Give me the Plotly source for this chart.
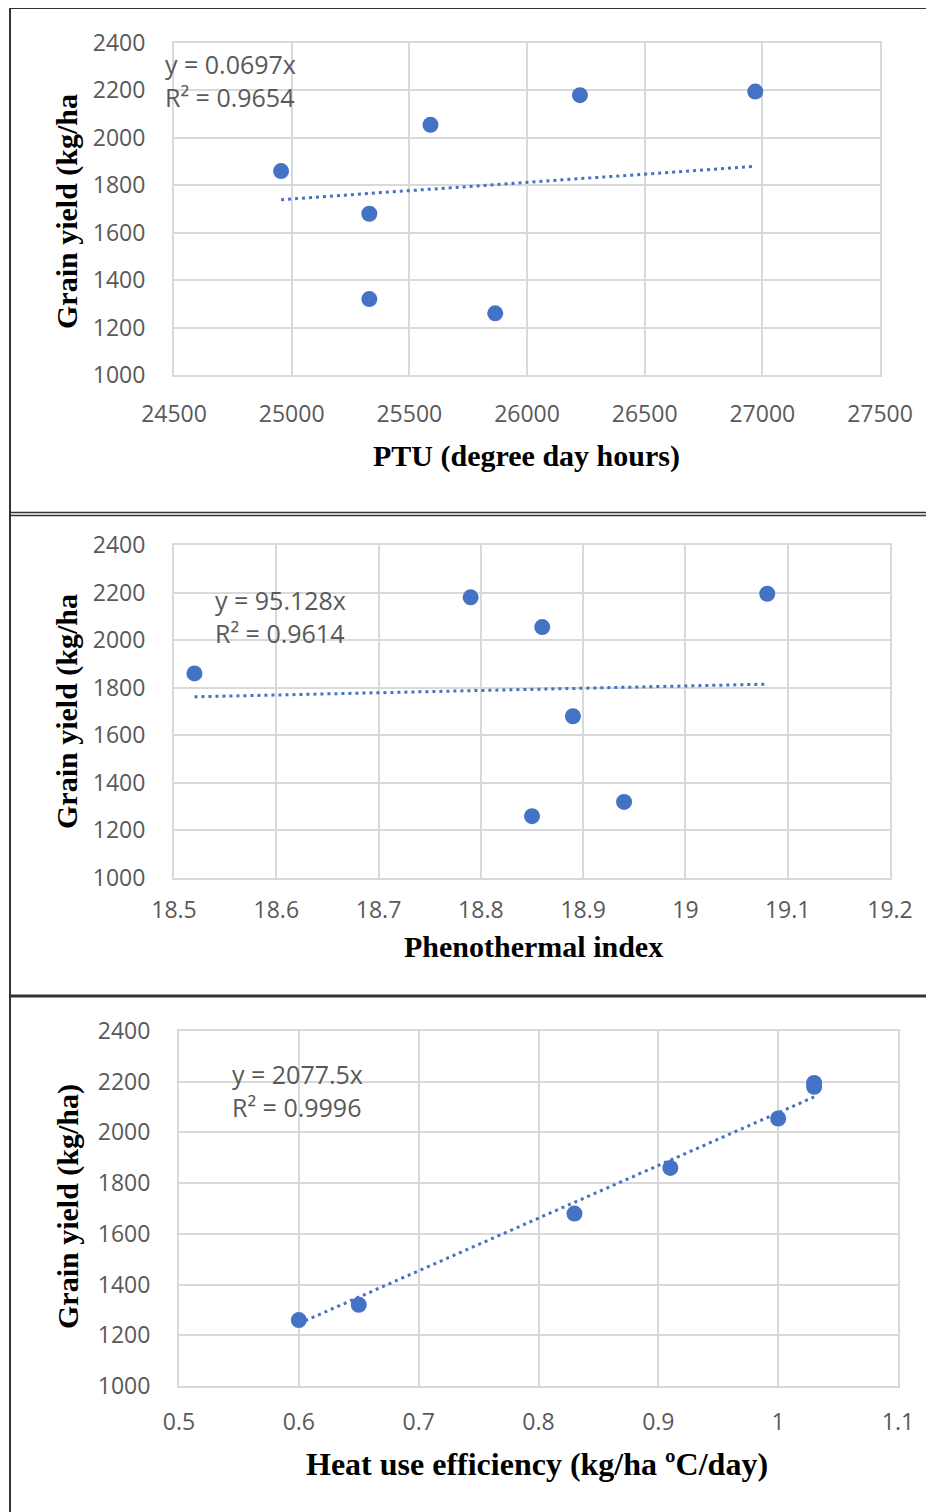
import plotly.graph_objects as go
import numpy as np

W, H = 934, 1512
OFF = 8  # page body margin compensation

# ---- data ----
grain_yield = [1860, 1680, 1320, 2055, 1260, 2180, 2195]
ptu = [24955, 25330, 25330, 25590, 25865, 26225, 26970]
pti = [18.52, 18.89, 18.94, 18.86, 18.85, 18.79, 19.08]
hue = [0.91, 0.83, 0.65, 1.00, 0.60, 1.03, 1.03]

slope_ptu, r2_ptu = 0.0697, 0.9654
slope_pti, r2_pti = 95.128, 0.9614
slope_hue, r2_hue = 2077.5, 0.9996

y_ticks = [1000, 1200, 1400, 1600, 1800, 2000, 2200, 2400]
ptu_ticks = [24500, 25000, 25500, 26000, 26500, 27000, 27500]
pti_ticks = [18.5, 18.6, 18.7, 18.8, 18.9, 19.0, 19.1, 19.2]
hue_ticks = [0.5, 0.6, 0.7, 0.8, 0.9, 1.0, 1.1]

x_titles = ["PTU (degree day hours)", "Phenothermal index", "Heat use efficiency (kg/ha ºC/day)"]
y_titles = ["Grain yield (kg/ha", "Grain yield (kg/ha", "Grain yield (kg/ha)"]

# ---- helpers ----
def px(x):
    return (x - OFF) / W

def py(y):
    return 1 - (y - OFF) / H

BLUE = "#4472C4"
GRID = "#d9d9d9"
TICKC = "#595959"
TICKFONT = dict(family="Open Sans, sans-serif", size=23, color=TICKC)
SERIF = "Liberation Serif, Times New Roman, serif"

panels = [
    dict(x=ptu, slope=slope_ptu, r2=r2_ptu, ticks=ptu_ticks, rng=[24500, 27500], fmt="d",
         dom_x=(174, 880), dom_y=(43, 375), eq=(163, 81), xt=(526, 456), yt=(67, 212),
         xso=17, xts=30),
    dict(x=pti, slope=slope_pti, r2=r2_pti, ticks=pti_ticks, rng=[18.5, 19.2], fmt="",
         dom_x=(174, 890), dom_y=(545, 878), eq=(213, 616), xt=(533, 946), yt=(67, 712),
         xso=10, xts=30),
    dict(x=hue, slope=slope_hue, r2=r2_hue, ticks=hue_ticks, rng=[0.5, 1.1], fmt="",
         dom_x=(179, 898), dom_y=(1031, 1386), eq=(230, 1090), xt=(537, 1464), yt=(68, 1207),
         xso=14, xts=32),
]

fig = go.Figure()
annotations = []
for i, p in enumerate(panels, start=1):
    xa = "x" if i == 1 else f"x{i}"
    ya = "y" if i == 1 else f"y{i}"
    xs = np.array(p["x"], dtype=float)
    tx = np.array([xs.min(), xs.max()])
    fig.add_trace(go.Scatter(x=tx, y=p["slope"] * tx, mode="lines",
                             line=dict(color=BLUE, width=3, dash="3px,4px"),
                             xaxis=xa, yaxis=ya, showlegend=False, hoverinfo="skip"))
    fig.add_trace(go.Scatter(x=p["x"], y=grain_yield, mode="markers",
                             marker=dict(color=BLUE, size=16),
                             xaxis=xa, yaxis=ya, showlegend=False))
    axis_common = dict(showgrid=True, gridcolor=GRID, gridwidth=2, zeroline=False,
                       showline=True, linecolor=GRID, linewidth=2, mirror=True,
                       ticks="", tickfont=TICKFONT, automargin=False)
    fig.layout[("xaxis" if i == 1 else f"xaxis{i}")] = dict(
        domain=[px(p["dom_x"][0]), px(p["dom_x"][1])], range=p["rng"],
        tickvals=p["ticks"], tickformat=p["fmt"], anchor=ya, ticklabelstandoff=p["xso"],
        **axis_common)
    fig.layout[("yaxis" if i == 1 else f"yaxis{i}")] = dict(
        domain=[py(p["dom_y"][1]), py(p["dom_y"][0])], range=[1000, 2400],
        tickvals=y_ticks, tickformat="d", anchor=xa, ticklabelstandoff=22, **axis_common)
    annotations.append(dict(
        x=px(p["eq"][0]), y=py(p["eq"][1]), xref="paper", yref="paper",
        xanchor="left", yanchor="middle", align="left", showarrow=False,
        text=f"y = {p['slope']}x<br>R² = {p['r2']}",
        font=dict(family="Open Sans, sans-serif", size=25, color=TICKC)))
    annotations.append(dict(
        x=px(p["xt"][0]), y=py(p["xt"][1]), xref="paper", yref="paper",
        xanchor="center", yanchor="middle", showarrow=False,
        text=f"<b>{x_titles[i-1]}</b>", font=dict(family=SERIF, size=p["xts"], color="#000000")))
    annotations.append(dict(
        x=px(p["yt"][0]), y=py(p["yt"][1]), xref="paper", yref="paper",
        xanchor="center", yanchor="middle", showarrow=False, textangle=-90,
        text=f"<b>{y_titles[i-1]}</b>", font=dict(family=SERIF, size=30, color="#000000")))

DARK = "#333333"
shapes = [
    dict(type="line", xref="paper", yref="paper", x0=px(10), x1=px(10), y0=py(8), y1=py(1520),
         line=dict(color=DARK, width=2)),
    dict(type="line", xref="paper", yref="paper", x0=px(10), x1=px(940), y0=py(8), y1=py(8),
         line=dict(color=DARK, width=2)),
    dict(type="line", xref="paper", yref="paper", x0=px(10), x1=px(940), y0=py(512.5), y1=py(512.5),
         line=dict(color=DARK, width=1.5)),
    dict(type="line", xref="paper", yref="paper", x0=px(10), x1=px(940), y0=py(515.5), y1=py(515.5),
         line=dict(color=DARK, width=1.5)),
    dict(type="line", xref="paper", yref="paper", x0=px(10), x1=px(940), y0=py(996), y1=py(996),
         line=dict(color=DARK, width=3)),
]

fig.update_layout(width=W, height=H,
                  margin=dict(l=0, r=0, t=0, b=0, autoexpand=False),
                  paper_bgcolor="white", plot_bgcolor="white",
                  annotations=annotations, shapes=shapes, showlegend=False)
fig.write_html("out.html")
